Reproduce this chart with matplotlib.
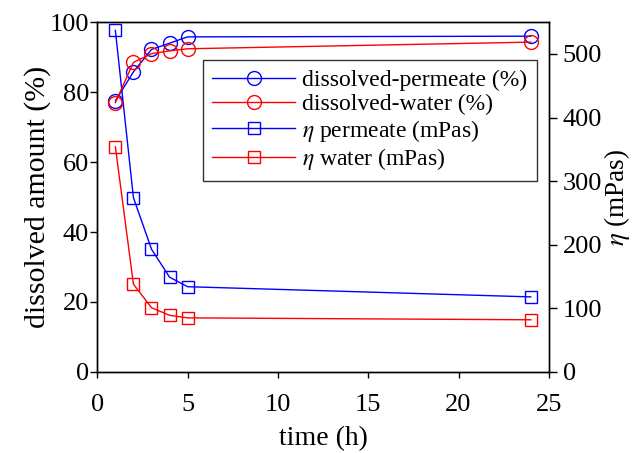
import matplotlib
matplotlib.use("Agg")
import matplotlib.pyplot as plt

plt.rcParams['font.family'] = ['Liberation Serif', 'DejaVu Serif']
plt.rcParams['mathtext.fontset'] = 'stix'

time_h = [1, 2, 3, 4, 5, 24]
diss_permeate = [77.5, 85.8, 92.2, 94.0, 95.8, 96.0]
diss_water = [77.0, 88.5, 91.0, 91.8, 92.4, 94.3]
eta_permeate = [537, 274, 193, 149, 134, 118]
eta_water = [354, 138, 101, 89, 85, 82]

fig, ax = plt.subplots(figsize=(6.36, 4.53), dpi=100)
fig.subplots_adjust(left=0.153, right=0.863, top=0.951, bottom=0.179)
ax2 = ax.twinx()

l1, = ax.plot(time_h, diss_permeate, color='blue', lw=1, marker='o', ms=10,
              mfc='none', mew=1, label='dissolved-permeate (%)')
l2, = ax.plot(time_h, diss_water, color='red', lw=1, marker='o', ms=10,
              mfc='none', mew=1, label='dissolved-water (%)')
l3, = ax2.plot(time_h, eta_permeate, color='blue', lw=1, marker='s', ms=8,
               mfc='none', mew=1, label=r'$\eta$ permeate (mPas)')
l4, = ax2.plot(time_h, eta_water, color='red', lw=1, marker='s', ms=8,
               mfc='none', mew=1, label=r'$\eta$ water (mPas)')

ax.set_xlim(0, 25)
ax.set_ylim(0, 100)
ax2.set_ylim(0, 550)
ax.set_xticks([0, 5, 10, 15, 20, 25])
ax.set_yticks([0, 20, 40, 60, 80, 100])
ax2.set_yticks([0, 100, 200, 300, 400, 500])

ax.set_xlabel('time (h)', fontsize=20, labelpad=7)
ax.set_ylabel('dissolved amount (%)', fontsize=21.5, labelpad=-1)
ax2.set_ylabel(r'$\eta$ (mPas)', fontsize=19.5, labelpad=0)

ax.tick_params(axis='x', labelsize=19, direction='out', length=4, width=1, pad=12)
ax.tick_params(axis='y', labelsize=19, direction='out', length=5, width=1, pad=1)
ax2.tick_params(axis='y', labelsize=19, direction='out', length=6, width=1, pad=4)
for a in (ax, ax2):
    for s in a.spines.values():
        s.set_linewidth(1)

leg = ax.legend(handles=[l1, l2, l3, l4], loc='upper right',
                bbox_to_anchor=(0.973, 0.891), borderaxespad=0, fontsize=17,
                frameon=True, fancybox=False, edgecolor='black',
                handlelength=3.5, borderpad=0.4, labelspacing=0.1,
                handletextpad=0.3)
leg.get_frame().set_linewidth(1)
leg.set_zorder(5)
ax.set_zorder(ax2.get_zorder() + 1)
ax.patch.set_visible(False)

fig.savefig('out.png', dpi=100)
